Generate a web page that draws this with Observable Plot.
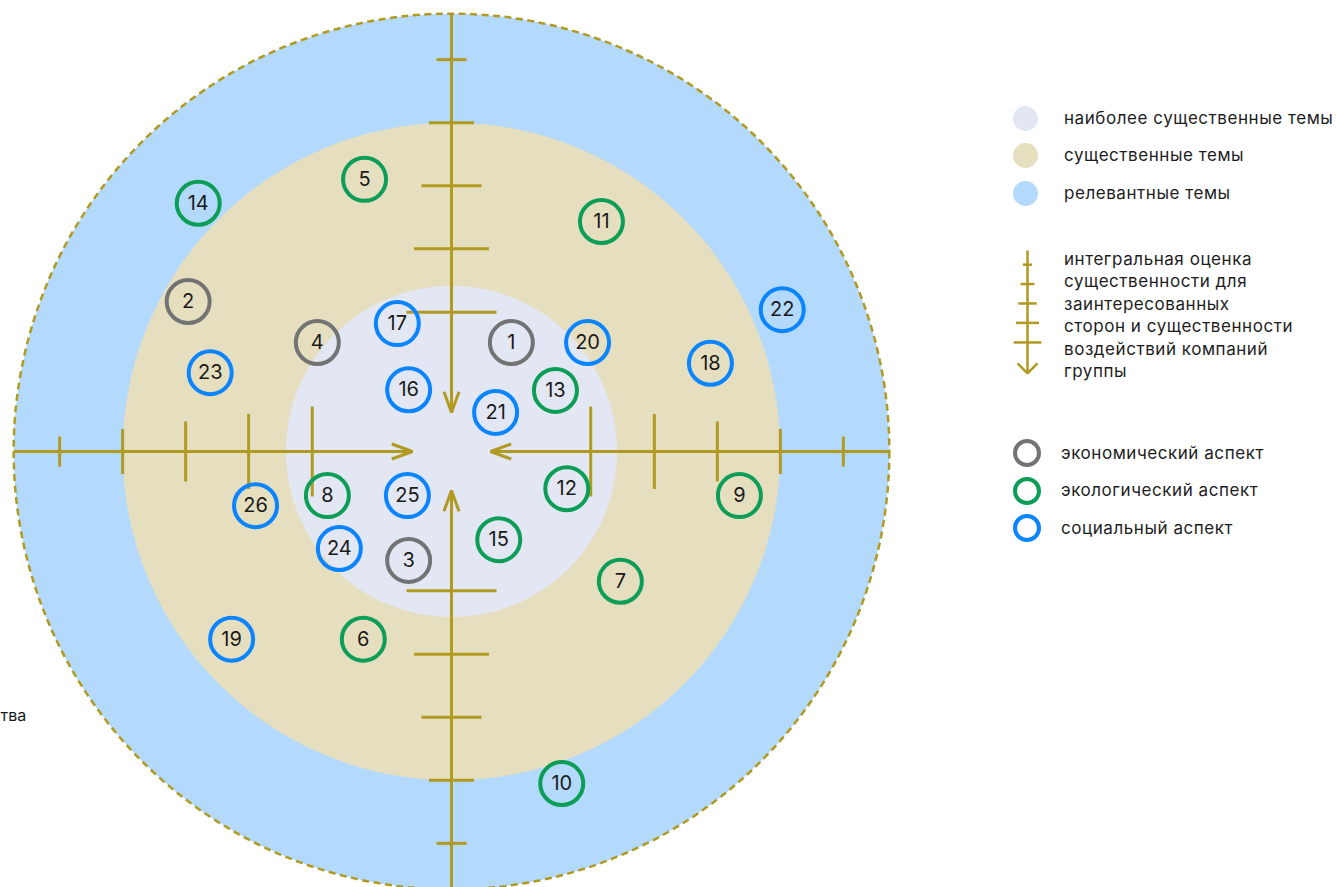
<!DOCTYPE html>
<html><head><meta charset="utf-8">
<script src="https://cdn.jsdelivr.net/npm/d3@7"></script>
<script src="https://cdn.jsdelivr.net/npm/@observablehq/plot@0.6"></script>
<style>
body{margin:0;background:#fff;font-family:Inter,"Noto Sans",sans-serif;color:#1d1d1d}
#wrap{position:relative;width:1340px;height:887px;overflow:hidden}
#chart{position:absolute;left:0;top:0}
.row{position:absolute;display:flex;align-items:center;font-size:17px;letter-spacing:0.55px;white-space:nowrap;line-height:22.4px}
.fillsw{width:25px;height:25px;border-radius:50%;flex:none;margin-right:26.5px}
.ringsw{width:28px;height:28px;border-radius:50%;box-sizing:border-box;border:4px solid;flex:none;margin-right:20px}
#icon{position:absolute;left:1012px;top:248px}
#axistext{position:absolute;left:1064px;top:248px;font-size:17px;letter-spacing:0.55px;line-height:22.4px;white-space:nowrap}
</style></head><body>
<div id="wrap"><div id="chart"></div><div id="legend"></div><div id="icon"></div><div id="axistext"></div></div>
<script>
// ---- data ----
const zoneNames = ["наиболее существенные темы", "существенные темы", "релевантные темы"];
const zoneRadii = [2.63, 5.22, 6.95];
const aspectNames = ["экономический аспект", "экологический аспект", "социальный аспект"];
const tickDistances = [2.21, 3.22, 4.22, 5.22, 6.22];
const topicNumbers = [1,2,3,4,5,6,7,8,9,10,11,12,13,14,15,16,17,18,19,20,21,22,23,24,25,26];
const topicX = [0.95,-4.18,-0.68,-2.13,-1.38,-1.40,2.68,-1.97,4.57,1.75,2.38,1.83,1.65,-4.02,0.75,-0.68,-0.86,4.11,-3.49,2.16,0.70,5.25,-3.83,-1.78,-0.70,-3.11];
const topicY = [1.73,2.38,-1.73,1.73,4.32,-2.98,-2.06,-0.70,-0.70,-5.27,3.65,-0.59,0.97,3.94,-1.40,0.98,2.03,1.40,-2.98,1.73,0.62,2.25,1.25,-1.54,-0.70,-0.86];
const topicAspect = [0,0,0,0,1,1,1,1,1,1,1,1,1,1,1,2,2,2,2,2,2,2,2,2,2,2];
const axisLegendLines = ["интегральная оценка", "существенности для", "заинтересованных", "сторон и существенности", "воздействий компаний", "группы"];
const sideNote = "тва";
const sideNoteY = -4.19;

// ---- styles / layout ----
const zoneColors = ["#e2e7f3", "#e6dfbf", "#b3d9fc"];
const aspectColors = ["#737373", "#0c9d57", "#0a84ff"];
const GOLD = "#b09a22";
const PX = 63, CX = 451, CY = 451, W = 900, H = 887;
const ARROW_TIP = 0.62;
const halfLen = i => 0.714 - 0.119 * i;

function axisMarks(directions, R, sw, headLength, headAngle) {
  const shafts = directions.map(([dx, dy]) => ({x1: dx * R, y1: dy * R, x2: dx * ARROW_TIP, y2: dy * ARROW_TIP}));
  const ticks = directions.flatMap(([dx, dy]) => tickDistances.map((d, i) => {
    const h = halfLen(i);
    return dx === 0 ? {x1: -h, x2: h, y1: dy * d, y2: dy * d} : {x1: dx * d, x2: dx * d, y1: -h, y2: h};
  }));
  return [
    Plot.link(ticks, {x1: "x1", y1: "y1", x2: "x2", y2: "y2", stroke: GOLD, strokeWidth: sw, strokeLinecap: "butt"}),
    Plot.arrow(shafts, {x1: "x1", y1: "y1", x2: "x2", y2: "y2", stroke: GOLD, strokeWidth: sw, headLength, headAngle, strokeLinecap: "butt"})
  ];
}

const zones = zoneNames.map((name, i) => ({name, radius: zoneRadii[i]})).reverse();
const topics = topicNumbers.map((n, i) => ({n, x: topicX[i], y: topicY[i], aspect: aspectNames[topicAspect[i]]}));
const R = zoneRadii[2];

const chart = Plot.plot({
  width: W, height: H, margin: 0,
  x: {domain: [-CX / PX, (W - CX) / PX], axis: null},
  y: {domain: [-(H - CY) / PX, CY / PX], axis: null},
  r: {type: "linear", domain: [0, 1], range: [0, PX]},
  color: {domain: [...zoneNames, ...aspectNames], range: [...zoneColors, ...aspectColors]},
  style: {background: "transparent", fontFamily: "Inter, sans-serif"},
  marks: [
    Plot.dot(zones, {x: d => 0, y: d => 0, r: "radius", fill: "name", stroke: "none"}),
    Plot.dot(zones.slice(0, 1), {x: d => 0, y: d => 0, r: "radius", fill: "none", stroke: GOLD, strokeWidth: 2.5, strokeDasharray: "7,4.5"}),
    ...axisMarks([[0, 1], [0, -1], [-1, 0], [1, 0]], R, 3, 11, 40),
    Plot.dot(topics, {x: "x", y: "y", r: 21.5, stroke: "aspect", strokeWidth: 4, fill: "none"}),
    Plot.text(topics, {x: "x", y: "y", text: d => String(d.n), fontSize: 20, fill: "#1a1a1a"}),
    Plot.text([{t: sideNote, v: sideNoteY}], {y: "v", text: "t", frameAnchor: "left", textAnchor: "start", fontSize: 16, fill: "#1a1a1a"})
  ]
});
document.getElementById("chart").appendChild(chart);

// ---- legend ----
const legend = document.getElementById("legend");
zoneNames.forEach((name, i) => {
  const row = document.createElement("div");
  row.className = "row";
  row.style.left = "1012.5px";
  row.style.top = (118 - 12.5 + i * 37.5) + "px";
  const sw = document.createElement("span");
  sw.className = "fillsw";
  sw.style.background = zoneColors[i];
  row.appendChild(sw);
  row.appendChild(document.createTextNode(name));
  legend.appendChild(row);
});
aspectNames.forEach((name, i) => {
  const row = document.createElement("div");
  row.className = "row";
  row.style.left = "1013px";
  row.style.top = (453 - 14 + i * 37.5) + "px";
  const sw = document.createElement("span");
  sw.className = "ringsw";
  sw.style.borderColor = aspectColors[i];
  row.appendChild(sw);
  row.appendChild(document.createTextNode(name));
  legend.appendChild(row);
});
document.getElementById("axistext").innerHTML = axisLegendLines.join("<br>");

const ICON_PX = 19.4, ICON_TOP = R + 2 / ICON_PX;
const icon = Plot.plot({
  width: 30, height: 130, margin: 0,
  x: {domain: [-15 / ICON_PX, 15 / ICON_PX], axis: null},
  y: {domain: [ICON_TOP - 130 / ICON_PX, ICON_TOP], axis: null},
  style: {background: "transparent"},
  marks: axisMarks([[0, 1]], R, 2.5, 8.4, 90)
});
document.getElementById("icon").appendChild(icon);
</script>
</body></html>
